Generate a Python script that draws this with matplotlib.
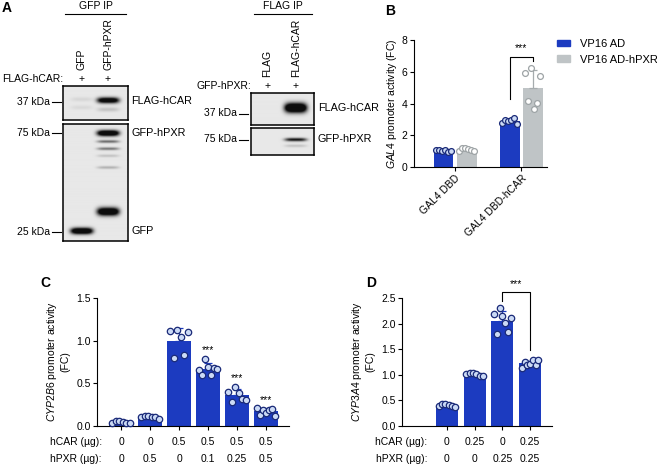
import numpy as np
import matplotlib
matplotlib.use('Agg')
import matplotlib.pyplot as plt
from matplotlib.lines import Line2D
from matplotlib.patches import Patch
from matplotlib.ticker import FormatStrFormatter

plt.rcParams['font.family'] = ['Liberation Sans', 'DejaVu Sans']
plt.rcParams['mathtext.fontset'] = 'custom'
plt.rcParams['mathtext.rm'] = 'Liberation Sans'
plt.rcParams['mathtext.it'] = 'Liberation Sans:italic'
plt.rcParams['axes.linewidth'] = 0.8

FS = 7.5

# -------------------------------
# data
# -------------------------------
# panel B: GAL4 two-hybrid
b_groups = ['GAL4 DBD', 'GAL4 DBD-hCAR']
b_series = ['VP16 AD', 'VP16 AD-hPXR']
b_vp16 = [[1.05, 1.10, 1.00, 1.05, 0.92, 1.03],
          [2.75, 2.95, 2.90, 2.98, 3.08, 2.70]]
b_vp16_pxr = [[1.02, 1.20, 1.22, 1.15, 1.05, 1.00],
              [5.90, 4.16, 6.26, 3.65, 4.05, 5.75]]

# panel C: CYP2B6 promoter
c_hcar = ['0', '0', '0.5', '0.5', '0.5', '0.5']
c_hpxr = ['0', '0.5', '0', '0.1', '0.25', '0.5']
c_points = [[0.04, 0.06, 0.06, 0.05, 0.04, 0.03],
            [0.11, 0.12, 0.12, 0.11, 0.11, 0.08],
            [1.11, 0.80, 1.12, 1.04, 0.83, 1.10],
            [0.66, 0.60, 0.79, 0.69, 0.60, 0.68, 0.67],
            [0.40, 0.28, 0.46, 0.39, 0.32, 0.30],
            [0.21, 0.13, 0.19, 0.15, 0.19, 0.20, 0.12]]
c_sig = [False, False, False, True, True, True]

# panel D: CYP3A4 promoter
d_hcar = ['0', '0.25', '0', '0.25']
d_hpxr = ['0', '0', '0.25', '0.25']
d_points = [[0.40, 0.42, 0.42, 0.41, 0.40, 0.38],
            [1.02, 1.04, 1.04, 1.01, 0.98, 0.97],
            [2.19, 1.79, 2.31, 2.14, 2.01, 1.84, 2.10],
            [1.14, 1.25, 1.19, 1.21, 1.28, 1.20, 1.28]]

# panel A blots: (lane, position in box from top, darkness, thickness px)
gfp_ip_lanes = ['GFP', 'GFP-hPXR']
flag_ip_lanes = ['FLAG', 'FLAG-hCAR']
gfp_ip_top = [(0, 0.42, 0.07, 1.5), (0, 0.66, 0.06, 1.5), (1, 0.45, 1.2, 2.0), (1, 0.72, 0.15, 1.5)]
gfp_ip_bottom = [(1, 0.086, 1.4, 2.0), (1, 0.157, 0.5, 1.0), (1, 0.218, 0.45, 1.0),
                 (1, 0.278, 0.15, 1.0), (1, 0.377, 0.22, 1.0), (1, 0.751, 1.4, 2.8),
                 (0, 0.915, 1.4, 2.2)]
flag_ip_top = [(1, 0.48, 1.6, 3.2)]
flag_ip_bottom = [(1, 0.43, 0.85, 1.2), (1, 0.66, 0.15, 1.0)]

blue = '#1c3bc0'
grey = '#bfc4c6'
pt_face_blue = '#cbdaf5'
pt_edge_blue = '#1a2a78'
pt_edge_grey = '#9ea4a6'

W, H = 657, 466
fig = plt.figure(figsize=(W / 100, H / 100), dpi=100)


def fx(x):
    return x / W


def fy(y):
    return 1 - y / H


def axes_px(x0, y0, x1, y1):
    return fig.add_axes([x0 / W, 1 - y1 / H, (x1 - x0) / W, (y1 - y0) / H])


def ftext(x, y, s, **kw):
    kw.setdefault('fontsize', FS)
    kw.setdefault('va', 'center')
    fig.text(fx(x), fy(y), s, **kw)


def fline(x0, y0, x1, y1, lw=0.8):
    fig.add_artist(Line2D([fx(x0), fx(x1)], [fy(y0), fy(y1)], transform=fig.transFigure,
                          color='k', lw=lw))


def blot(box, lane_x, bands):
    x0, y0, x1, y1 = box
    ax = axes_px(x0, y0, x1, y1)
    w, h = x1 - x0, y1 - y0
    sc = 4
    ny, nx = int(h * sc), int(w * sc)
    yy = (np.arange(ny) + 0.5) / sc
    xx = (np.arange(nx) + 0.5) / sc
    img = np.full((ny, nx), 0.91)
    for lane, pos, dark, thick in bands:
        px = np.exp(-((xx - lane_x[lane] * w) / 11.0) ** 4)
        py = np.exp(-0.5 * ((yy - pos * h) / thick) ** 2)
        img -= dark * np.outer(py, px)
    img = np.clip(img, 0.05, 1)
    ax.imshow(img, cmap='gray', vmin=0, vmax=1, aspect='auto', extent=(0, 1, 1, 0),
              interpolation='bilinear')
    ax.set_xticks([])
    ax.set_yticks([])
    for s in ax.spines.values():
        s.set_linewidth(1.1)
    return ax


def bar_pts(ax, x, pts, color, face, edge, width, spread, ecolor=None, ms=4.6):
    pts = np.asarray(pts)
    m, sd = pts.mean(), pts.std(ddof=1)
    ax.bar(x, m, width, color=color, zorder=1)
    ax.errorbar(x, m, yerr=[[0], [sd]], color=ecolor or color, capsize=3.2, lw=0.9,
                capthick=0.9, zorder=2)
    xs = x + np.linspace(-spread, spread, len(pts))
    ax.plot(xs, pts, 'o', ms=ms, mfc=face, mec=edge, mew=0.9, zorder=3, clip_on=False)
    return m, sd


def style(ax):
    for s in ['top', 'right']:
        ax.spines[s].set_visible(False)
    ax.tick_params(length=3, width=0.8, labelsize=FS, pad=1.5)


# -------------------------------
# panel A
# -------------------------------
ftext(2, 8, 'A', fontsize=10, fontweight='bold')
ftext(96, 6, 'GFP IP', ha='center')
fline(65, 13.5, 126, 13.5)
ftext(283, 6, 'FLAG IP', ha='center')
fline(254, 13.5, 312, 13.5)

left_lx = [0.29, 0.695]
right_lx = [0.26, 0.71]
blot((63, 86, 128, 119.5), left_lx, gfp_ip_top)
blot((63, 123.5, 128, 241), left_lx, gfp_ip_bottom)
blot((251, 93, 314, 125), right_lx, flag_ip_top)
blot((251, 128, 314, 155), right_lx, flag_ip_bottom)

for name, x in zip(gfp_ip_lanes, [81.5, 108]):
    ftext(x, 70, name, rotation=90, ha='center', va='bottom')
    ftext(x, 79, '+', ha='center')
ftext(63, 79, 'FLAG-hCAR:', ha='right')
for name, x in zip(flag_ip_lanes, [267.5, 296]):
    ftext(x, 77, name, rotation=90, ha='center', va='bottom')
    ftext(x, 86, '+', ha='center')
ftext(251, 86, 'GFP-hPXR:', ha='right')

for lab, y in [('37 kDa', 102), ('75 kDa', 133), ('25 kDa', 232)]:
    ftext(50, y, lab, ha='right')
    fline(52, y, 61, y)
for lab, y in [('37 kDa', 113.5), ('75 kDa', 139.5)]:
    ftext(237, y, lab, ha='right')
    fline(239, y, 248, y)
for lab, y in [('FLAG-hCAR', 101), ('GFP-hPXR', 133), ('GFP', 231)]:
    ftext(131, y, lab, ha='left', fontsize=7.8)
for lab, y in [('FLAG-hCAR', 108), ('GFP-hPXR', 139.5)]:
    ftext(318, y, lab, ha='left', fontsize=7.8)

# -------------------------------
# panel B
# -------------------------------
ftext(385, 11, 'B', fontsize=10, fontweight='bold')
axB = axes_px(414, 40, 547, 167)
xB = np.arange(len(b_groups))
off, bw = 0.175, 0.30
for i in range(len(b_groups)):
    bar_pts(axB, xB[i] - off, b_vp16[i], blue, pt_face_blue, pt_edge_blue, bw, 0.11, ms=4.2)
    bar_pts(axB, xB[i] + off, b_vp16_pxr[i], grey, 'white', pt_edge_grey, bw, 0.11,
            ecolor='#a6acae', ms=4.2)
axB.set_xlim(-0.62, 1.39)
axB.set_ylim(0, 8)
axB.set_yticks([0, 2, 4, 6, 8])
axB.set_xticks(xB)
axB.set_xticklabels(b_groups, rotation=45, ha='right', rotation_mode='anchor')
style(axB)
axB.set_ylabel(r'$\it{GAL4}$ promoter activity (FC)', fontsize=FS, labelpad=2)
# significance bracket
top = max(b_vp16_pxr[1]) + 0.7
xl, xr = xB[1] - off, xB[1] + off
axB.plot([xl, xl, xr, xr], [np.mean(b_vp16[1]) + 1.4, top, top, top - 0.3], color='k',
         lw=0.8, clip_on=False)
axB.text((xl + xr) / 2, top + 0.2, '***', ha='center', va='bottom', fontsize=FS)
axB.legend([Patch(color=blue), Patch(color=grey)], b_series, loc='upper left',
           bbox_to_anchor=(fx(557), fy(39)), bbox_transform=fig.transFigure,
           frameon=False, fontsize=8, handlelength=1.2, handleheight=0.55,
           handletextpad=0.9, labelspacing=0.5, borderaxespad=0, borderpad=0)

# -------------------------------
# panel C
# -------------------------------
ftext(40, 283, 'C', fontsize=10, fontweight='bold')
axC = axes_px(97, 298, 289, 426)
xC = np.arange(len(c_points))
for i, pts in enumerate(c_points):
    m, sd = bar_pts(axC, xC[i], pts, blue, pt_face_blue, pt_edge_blue, 0.8, 0.3)
    if c_sig[i]:
        axC.text(xC[i], max(m + sd, max(pts)) + 0.04, '***', ha='center', va='bottom',
                 fontsize=FS)
axC.set_xlim(-0.83, 5.79)
axC.set_ylim(0, 1.5)
axC.set_yticks([0, 0.5, 1.0, 1.5])
axC.yaxis.set_major_formatter(FormatStrFormatter('%.1f'))
axC.set_xticks(xC)
axC.set_xticklabels([])
style(axC)
axC.set_ylabel(r'$\it{CYP2B6}$ promoter activity' + '\n(FC)', fontsize=FS, labelpad=4)
for i in range(len(xC)):
    axC.text(xC[i], -0.125, c_hcar[i], ha='center', va='center', fontsize=FS,
             transform=axC.get_xaxis_transform())
    axC.text(xC[i], -0.258, c_hpxr[i], ha='center', va='center', fontsize=FS,
             transform=axC.get_xaxis_transform())
ftext(102, 442, 'hCAR (µg):', ha='right')
ftext(102, 459, 'hPXR (µg):', ha='right')

# -------------------------------
# panel D
# -------------------------------
ftext(366, 283, 'D', fontsize=10, fontweight='bold')
axD = axes_px(402, 298, 552, 426)
xD = np.arange(len(d_points))
for i, pts in enumerate(d_points):
    bar_pts(axD, xD[i], pts, blue, pt_face_blue, pt_edge_blue, 0.8, 0.3)
axD.set_xlim(-1.62, 3.79)
axD.set_ylim(0, 2.5)
axD.set_yticks([0, 0.5, 1.0, 1.5, 2.0, 2.5])
axD.yaxis.set_major_formatter(FormatStrFormatter('%.1f'))
axD.set_xticks(xD)
axD.set_xticklabels([])
style(axD)
axD.set_ylabel(r'$\it{CYP3A4}$ promoter activity' + '\n(FC)', fontsize=FS, labelpad=4)
top = max(d_points[2]) + 0.31
axD.plot([2, 2, 3, 3], [top - 0.17, top, top, max(d_points[3]) + 0.2], color='k', lw=0.8,
         clip_on=False)
axD.text(2.5, top + 0.06, '***', ha='center', va='bottom', fontsize=FS)
for i in range(len(xD)):
    axD.text(xD[i], -0.125, d_hcar[i], ha='center', va='center', fontsize=FS,
             transform=axD.get_xaxis_transform())
    axD.text(xD[i], -0.258, d_hpxr[i], ha='center', va='center', fontsize=FS,
             transform=axD.get_xaxis_transform())
ftext(427, 442, 'hCAR (µg):', ha='right')
ftext(427, 459, 'hPXR (µg):', ha='right')

fig.savefig('out.png', dpi=100)
